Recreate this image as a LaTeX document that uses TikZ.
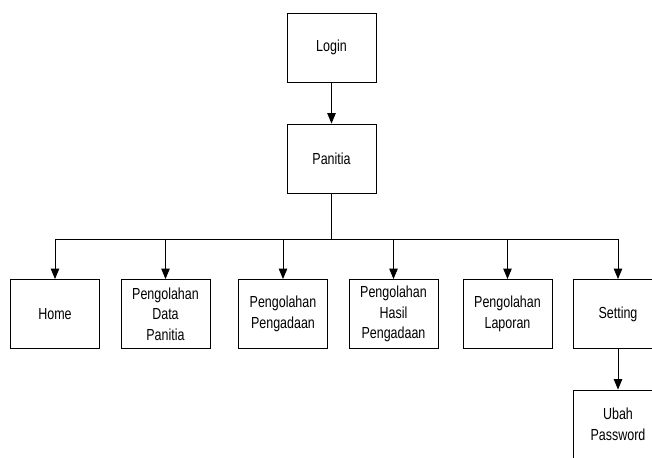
\documentclass[tikz,border=0pt]{standalone}
\usepackage{fontspec}
\setmainfont{Liberation Sans}[FakeStretch=0.78]
\usetikzlibrary{arrows.meta}
\begin{document}
\begin{tikzpicture}[x=1pt,y=-1pt,
  box/.style={draw, line width=0.9pt, minimum width=89pt, minimum height=69pt, align=center, font=\fontsize{16}{20.5}\selectfont, inner sep=0pt},
  arr/.style={-{Triangle[width=8.5pt,length=10.5pt]}, line width=0.9pt},
  ln/.style={line width=0.9pt}]
\useasboundingbox (0,0) rectangle (652,457);
\clip (0,0) rectangle (652,457);
\node[box] (login) at (331.5,47.5) {Login};
\node[box] (panitia) at (331.5,158.5) {Panitia};
\node[box] (home) at (55,314) {Home};
\node[box] (data) at (165.5,314) {Pengolahan\\Data\\Panitia};
\node[box] (pengadaan) at (283,314) {Pengolahan\\Pengadaan};
\node[box] (hasil) at (393.5,314) {Pengolahan\\Hasil\\Pengadaan};
\node[box] (laporan) at (507.5,314) {Pengolahan\\Laporan};
\node[box] (setting) at (618,314) {Setting};
\node[box] (ubah) at (618,424.5) {Ubah\\Password};
\coordinate (bus) at (331.5,239);
\draw[arr] (login) -- (panitia);
\draw[ln] (panitia.south) -- (bus);
\draw[ln] (home.north |- bus) -- (setting.north |- bus);
\foreach \n in {home,data,pengadaan,hasil,laporan,setting}
  \draw[arr] (\n.north |- bus) -- (\n.north);
\draw[arr] (setting) -- (ubah);
\end{tikzpicture}
\end{document}
